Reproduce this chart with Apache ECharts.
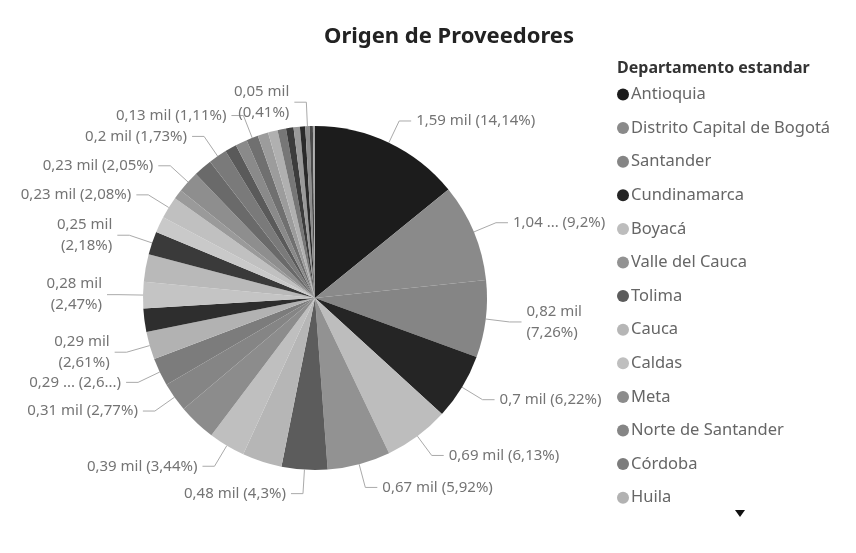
<!DOCTYPE html>
<html>
<head>
<meta charset="utf-8">
<script src="https://cdn.jsdelivr.net/npm/echarts@6/dist/echarts.min.js"></script>
<style>
  html, body { margin: 0; padding: 0; background: #fff; }
  #chart { width: 856px; height: 553px; }
</style>
</head>
<body>
<div id="chart"></div>
<script>
// Departamentos, en el orden del gráfico (de mayor a menor, sentido horario)
const categorias = [
  'Antioquia', 'Distrito Capital de Bogotá', 'Santander', 'Cundinamarca', 'Boyacá',
  'Valle del Cauca', 'Tolima', 'Cauca', 'Caldas', 'Meta', 'Norte de Santander',
  'Córdoba', 'Huila', 'Atlántico', 'Bolívar', 'Nariño', 'Risaralda', 'Magdalena',
  'Quindío', 'Cesar', 'Casanare', 'Sucre', 'La Guajira', 'Caquetá', 'Putumayo',
  'Chocó', 'Arauca', 'San Andrés', 'Amazonas', 'Guaviare', 'Vichada', 'Vaupés',
  'Guainía', 'Sin información', 'Exterior'
]

// proveedores, en miles
const valores = [
  1.590, 1.035, 0.816, 0.699, 0.689,
  0.666, 0.484, 0.419, 0.387, 0.399, 0.311,
  0.297, 0.293, 0.247, 0.278, 0.292, 0.245, 0.169,
  0.234, 0.101, 0.231, 0.197, 0.195, 0.124, 0.124,
  0.125, 0.112, 0.101, 0.090, 0.079, 0.067, 0.056,
  0.046, 0.034, 0.022
]

// etiquetas visibles en la imagen ('' = sin etiqueta)
const etiquetas = [
  '1,59 mil (14,14%)', '1,04 ... (9,2%)', '0,82 mil\n(7,26%)', '0,7 mil (6,22%)', '0,69 mil (6,13%)',
  '0,67 mil (5,92%)', '0,48 mil (4,3%)', '', '0,39 mil (3,44%)', '', '0,31 mil (2,77%)',
  '0,29 ... (2,6...)', '0,29 mil\n(2,61%)', '', '0,28 mil\n(2,47%)', '', '0,25 mil\n(2,18%)', '',
  '0,23 mil (2,08%)', '', '0,23 mil (2,05%)', '', '0,2 mil (1,73%)', '', '',
  '0,13 mil (1,11%)', '', '', '', '', '', '',
  '0,05 mil\n(0,41%)', '', ''
]

// tonos de gris de la foto
const colores = [
  '#1c1c1c', '#8a8a8a', '#858585', '#252525', '#bdbdbd',
  '#929292', '#5c5c5c', '#b6b6b6', '#bfbfbf', '#8c8c8c', '#858585',
  '#7c7c7c', '#b2b2b2', '#2e2e2e', '#c4c4c4', '#b9b9b9', '#3a3a3a', '#c9c9c9',
  '#c0c0c0', '#9a9a9a', '#8e8e8e', '#6a6a6a', '#7a7a7a', '#5a5a5a', '#8a8a8a',
  '#707070', '#9c9c9c', '#b0b0b0', '#777777', '#3c3c3c', '#9a9a9a', '#2a2a2a',
  '#8c8c8c', '#4a4a4a', '#a8a8a8'
]

const chart = echarts.init(document.getElementById('chart'))

const serieDatos = categorias.map((name, i) => ({
  name,
  value: valores[i],
  itemStyle: { color: colores[i] },
  label: { show: etiquetas[i] !== '' },
  labelLine: { show: etiquetas[i] !== '' }
}))

const option = {
  backgroundColor: '#ffffff',
  animation: false,
  title: [
    {
      text: 'Origen de Proveedores',
      left: 444,
      top: 21,
      textAlign: 'center',
      textStyle: { fontFamily: 'Noto Sans', fontWeight: 'bold', fontSize: 22, color: '#222' }
    },
    {
      text: 'Departamento estandar',
      left: 612,
      top: 55,
      textStyle: { fontFamily: 'Noto Sans', fontWeight: 'bold', fontSize: 16, color: '#333' }
    }
  ],
  legend: {
    orient: 'vertical',
    left: 612,
    top: 81,
    icon: 'circle',
    itemWidth: 12,
    itemHeight: 12,
    itemGap: 16.6,
    data: categorias.slice(0, 13),
    textStyle: { fontFamily: 'Noto Sans', fontSize: 16.5, color: '#666', padding: [0, 0, 0, -3] }
  },
  series: [
    {
      type: 'pie',
      center: [315, 298],
      radius: 172,
      startAngle: 90,
      clockwise: true,
      avoidLabelOverlap: false,
      labelLayout: { hideOverlap: false },
      itemStyle: { borderWidth: 0 },
      label: {
        position: 'outside',
        formatter: (p) => etiquetas[p.dataIndex],
        fontFamily: 'Noto Sans',
        fontSize: 15,
        lineHeight: 21,
        color: '#747474'
      },
      labelLine: {
        length: 24,
        length2: 12,
        lineStyle: { color: '#aaa', width: 1 }
      },
      emphasis: { disabled: true },
      data: serieDatos
    }
  ],
  graphic: [
    {
      type: 'polygon',
      shape: { points: [[735, 510], [745, 510], [740, 517]] },
      style: { fill: '#111' }
    }
  ]
}

chart.setOption(option)
</script>
</body>
</html>
